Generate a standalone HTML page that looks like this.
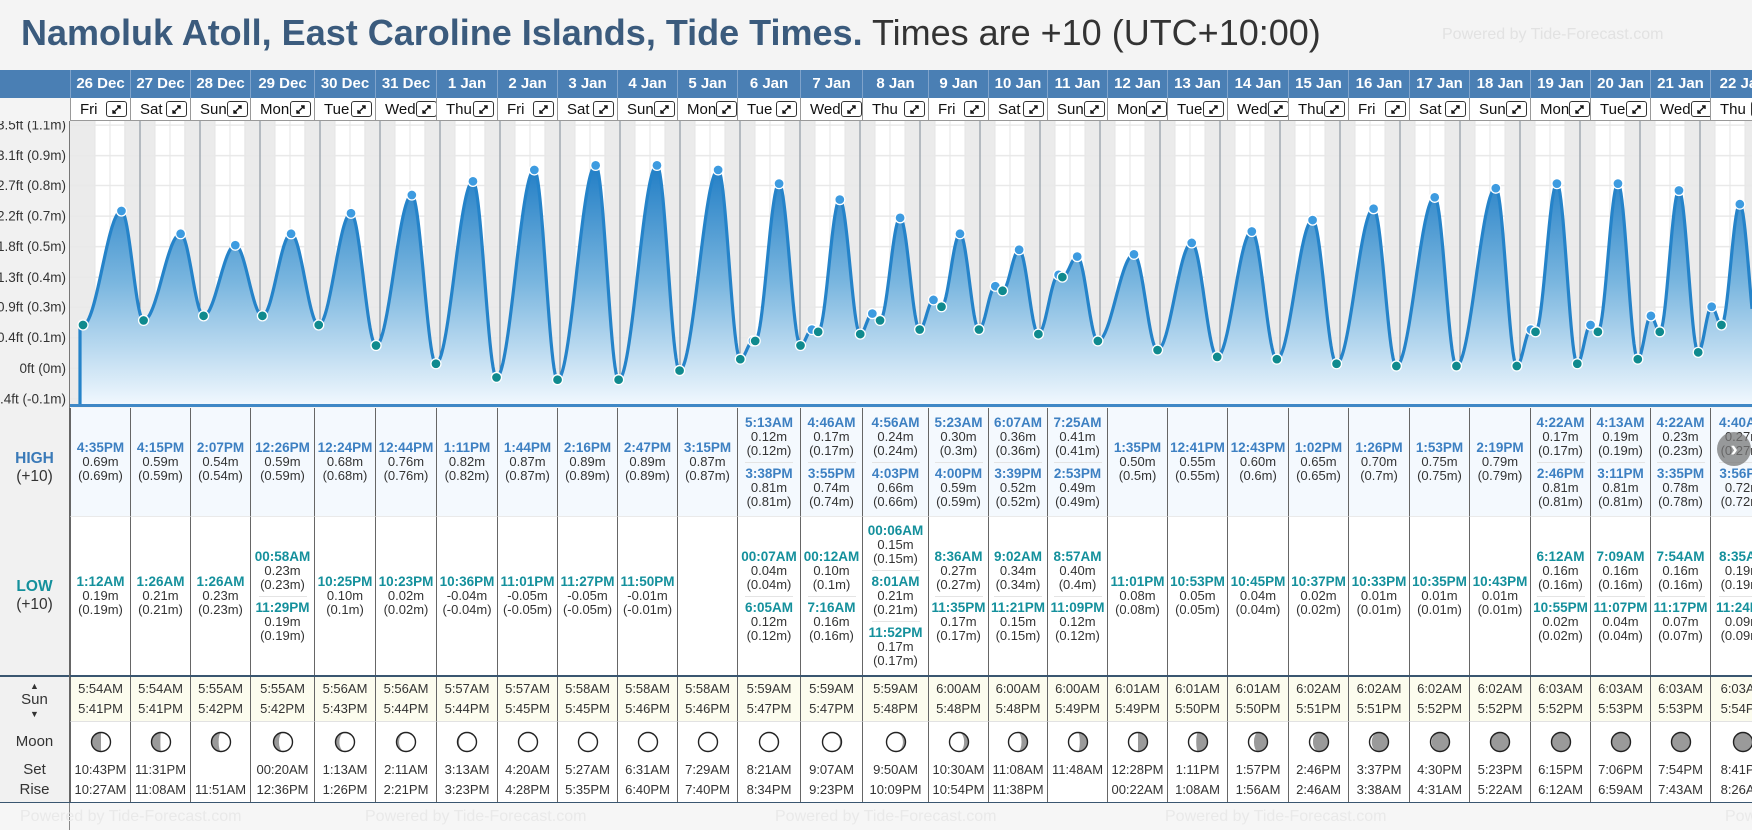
<!DOCTYPE html>
<html><head><meta charset="utf-8">
<style>
body{margin:0;width:1752px;height:830px;overflow:hidden;background:#f4f4f4;font-family:"Liberation Sans",sans-serif;position:relative}
.abs{position:absolute}
.hd{position:absolute;top:70px;height:28px;background:#4a7fb4;color:#fff;font-weight:bold;font-size:15px;line-height:28px;text-align:center;border-left:1px solid #7fa3cb;box-sizing:border-box;white-space:nowrap;overflow:hidden}
.dy{position:absolute;top:98px;height:23px;background:#fff;font-size:15px;line-height:23px;border-left:1px solid #999;border-bottom:1px solid #999;box-sizing:border-box;white-space:nowrap;overflow:hidden;color:#111;display:flex;justify-content:space-between;align-items:center;padding:0 3px 0 9px}
.cell{position:absolute;box-sizing:border-box;border-left:1px solid #666;display:flex;flex-direction:column;justify-content:center;align-items:center;overflow:hidden;white-space:nowrap;font-size:13px;color:#333;text-align:center}
.ent{padding:4px 0;line-height:14px;width:48px;display:flex;flex-direction:column;align-items:center}
.ent+.ent{border-top:1px solid #e4e4e4}
.th{font-weight:bold;color:#3d80c2;font-size:13.5px}
.tl{font-weight:bold;color:#14909c;font-size:13.5px}
.lbl{position:absolute;left:0;width:69px;text-align:center;background:#f1f1f1;box-sizing:border-box;display:flex;flex-direction:column;justify-content:center;align-items:center;color:#333}
.wm{position:absolute;color:#e2e2e2;font-size:16px;white-space:nowrap}
</style></head>
<body>
<div class="abs" style="left:21px;top:12px;font-size:36px;white-space:nowrap"><b style="color:#3b5b7d">Namoluk Atoll, East Caroline Islands, Tide Times.</b> <span style="color:#333">Times are +10 (UTC+10:00)</span></div>
<div class="wm" style="left:1442px;top:26px">Powered by Tide-Forecast.com</div>
<div class="abs" style="left:0;top:70px;width:70px;height:28px;background:#4a7fb4"></div>
<div class="abs" style="left:0;top:98px;width:70px;height:23px;background:#f4f4f4"></div>

<svg id="chart" class="abs" style="left:0;top:121px" width="1752" height="287" viewBox="0 121 1752 287">
  <defs>
    <linearGradient id="fillg" gradientUnits="userSpaceOnUse" x1="0" y1="160" x2="0" y2="405">
      <stop offset="0" stop-color="#1d7bc4"/>
      <stop offset="0.5" stop-color="#7ab6df"/>
      <stop offset="1" stop-color="#f1f8fe"/>
    </linearGradient>
  </defs>
  <rect x="70" y="121" width="1682" height="286" fill="#fff"/>
  <g id="bands"></g><g id="grid"></g><g id="area"></g><g id="dots"></g>
  <rect x="0" y="121" width="70" height="287" fill="#f1f1f1"/>
  <line x1="69.5" y1="121" x2="69.5" y2="408" stroke="#777"/>
  <g id="yticks"></g>
  <rect x="70" y="404" width="1682" height="3" fill="#3f88c6"/>
</svg>
<div id="table"></div>
<div class="abs" style="left:0;top:803px;width:1752px;height:27px;background:#f6f6f6"></div>
<div class="abs" style="left:69px;top:803px;width:1px;height:27px;background:#888"></div>
<div class="wm" style="left:20px;top:808px;color:#e9e9e9">Powered by Tide-Forecast.com</div>
<div class="wm" style="left:365px;top:808px;color:#e9e9e9">Powered by Tide-Forecast.com</div>
<div class="wm" style="left:775px;top:808px;color:#e9e9e9">Powered by Tide-Forecast.com</div>
<div class="wm" style="left:1165px;top:808px;color:#e9e9e9">Powered by Tide-Forecast.com</div>
<div class="wm" style="left:1725px;top:808px;color:#e9e9e9">Powered</div>
<div class="abs" style="left:1717px;top:432px;width:34px;height:34px;border-radius:17px;background:rgba(120,120,120,0.75);color:#fff;font-size:22px;line-height:34px;text-align:center;font-weight:bold">›</div>

<script>
const dates=['26 Dec','27 Dec','28 Dec','29 Dec','30 Dec','31 Dec','1 Jan','2 Jan','3 Jan','4 Jan','5 Jan','6 Jan','7 Jan','8 Jan','9 Jan','10 Jan','11 Jan','12 Jan','13 Jan','14 Jan','15 Jan','16 Jan','17 Jan','18 Jan','19 Jan','20 Jan','21 Jan','22 Jan'];
const weekdays=['Fri','Sat','Sun','Mon','Tue','Wed','Thu','Fri','Sat','Sun','Mon','Tue','Wed','Thu','Fri','Sat','Sun','Mon','Tue','Wed','Thu','Fri','Sat','Sun','Mon','Tue','Wed','Thu'];
const highTimes=[['4:35PM'],['4:15PM'],['2:07PM'],['12:26PM'],['12:24PM'],['12:44PM'],['1:11PM'],['1:44PM'],['2:16PM'],['2:47PM'],['3:15PM'],['5:13AM','3:38PM'],['4:46AM','3:55PM'],['4:56AM','4:03PM'],['5:23AM','4:00PM'],['6:07AM','3:39PM'],['7:25AM','2:53PM'],['1:35PM'],['12:41PM'],['12:43PM'],['1:02PM'],['1:26PM'],['1:53PM'],['2:19PM'],['4:22AM','2:46PM'],['4:13AM','3:11PM'],['4:22AM','3:35PM'],['4:40AM','3:56PM']];
const highHeights=[[0.69],[0.59],[0.54],[0.59],[0.68],[0.76],[0.82],[0.87],[0.89],[0.89],[0.87],[0.12,0.81],[0.17,0.74],[0.24,0.66],[0.30,0.59],[0.36,0.52],[0.41,0.49],[0.50],[0.55],[0.60],[0.65],[0.70],[0.75],[0.79],[0.17,0.81],[0.19,0.81],[0.23,0.78],[0.27,0.72]];
const lowTimes=[['1:12AM'],['1:26AM'],['1:26AM'],['00:58AM','11:29PM'],['10:25PM'],['10:23PM'],['10:36PM'],['11:01PM'],['11:27PM'],['11:50PM'],[],['00:07AM','6:05AM'],['00:12AM','7:16AM'],['00:06AM','8:01AM','11:52PM'],['8:36AM','11:35PM'],['9:02AM','11:21PM'],['8:57AM','11:09PM'],['11:01PM'],['10:53PM'],['10:45PM'],['10:37PM'],['10:33PM'],['10:35PM'],['10:43PM'],['6:12AM','10:55PM'],['7:09AM','11:07PM'],['7:54AM','11:17PM'],['8:35AM','11:24PM']];
const lowHeights=[[0.19],[0.21],[0.23],[0.23,0.19],[0.10],[0.02],[-0.04],[-0.05],[-0.05],[-0.01],[],[0.04,0.12],[0.10,0.16],[0.15,0.21,0.17],[0.27,0.17],[0.34,0.15],[0.40,0.12],[0.08],[0.05],[0.04],[0.02],[0.01],[0.01],[0.01],[0.16,0.02],[0.16,0.04],[0.16,0.07],[0.19,0.09]];
const sunrise=['5:54AM','5:54AM','5:55AM','5:55AM','5:56AM','5:56AM','5:57AM','5:57AM','5:58AM','5:58AM','5:58AM','5:59AM','5:59AM','5:59AM','6:00AM','6:00AM','6:00AM','6:01AM','6:01AM','6:01AM','6:02AM','6:02AM','6:02AM','6:02AM','6:03AM','6:03AM','6:03AM','6:03AM'];
const sunset=['5:41PM','5:41PM','5:42PM','5:42PM','5:43PM','5:44PM','5:44PM','5:45PM','5:45PM','5:46PM','5:46PM','5:47PM','5:47PM','5:48PM','5:48PM','5:48PM','5:49PM','5:49PM','5:50PM','5:50PM','5:51PM','5:51PM','5:52PM','5:52PM','5:52PM','5:53PM','5:53PM','5:54PM'];
const moonset=['10:43PM','11:31PM','','00:20AM','1:13AM','2:11AM','3:13AM','4:20AM','5:27AM','6:31AM','7:29AM','8:21AM','9:07AM','9:50AM','10:30AM','11:08AM','11:48AM','12:28PM','1:11PM','1:57PM','2:46PM','3:37PM','4:30PM','5:23PM','6:15PM','7:06PM','7:54PM','8:41PM'];
const moonrise=['10:27AM','11:08AM','11:51AM','12:36PM','1:26PM','2:21PM','3:23PM','4:28PM','5:35PM','6:40PM','7:40PM','8:34PM','9:23PM','10:09PM','10:54PM','11:38PM','','00:22AM','1:08AM','1:56AM','2:46AM','3:38AM','4:31AM','5:22AM','6:12AM','6:59AM','7:43AM','8:26AM'];
const moonPhase=[0.25,0.26,0.29,0.32,0.35,0.38,0.41,0.44,0.47,0.50,0.53,0.56,0.59,0.62,0.66,0.69,0.72,0.75,0.78,0.82,0.86,0.89,0.92,0.95,0.98,0.01,0.04,0.07];
const tickFeet=[-0.44,0,0.44,0.88,1.31,1.75,2.19,2.63,3.06,3.5];
const tickLabels=['-0.4ft (-0.1m)','0ft (0m)','0.4ft (0.1m)','0.9ft (0.3m)','1.3ft (0.4m)','1.8ft (0.5m)','2.2ft (0.7m)','2.7ft (0.8m)','3.1ft (0.9m)','3.5ft (1.1m)'];

const colX=[70,130,190,250,314,375,436,497,557,617,677,737,800,862,928,988,1047,1107,1167,1227,1288,1348,1409,1469,1530,1590,1650,1710,1775];
const NS='http://www.w3.org/2000/svg';
const X0=80,DAYW=60,Y0=368.3,PXM=228,BOT=404;
function xOf(day,hours){return X0+(day+hours/24)*DAYW;}
function yOf(m){return Y0-m*PXM;}
function hrs(s){const m=s.match(/(\d+):(\d+)(AM|PM)/);let h=(+m[1])%12;if(m[3]==='PM')h+=12;return h+(+m[2])/60;}
function sv(tag,attrs,parent){const e=document.createElementNS(NS,tag);for(const k in attrs)e.setAttribute(k,attrs[k]);parent.appendChild(e);return e;}

const bands=document.getElementById('bands'),grid=document.getElementById('grid'),area=document.getElementById('area'),dots=document.getElementById('dots'),yt=document.getElementById('yticks');
let nb=sv('rect',{x:70,y:121,width:xOf(0,hrs(sunrise[0]))-70,height:BOT-121,fill:'#ebebeb'},bands);


for(let d=0;d<dates.length;d++){
  const xs=xOf(d,hrs(sunset[d]));
  const xe=d+1<dates.length?xOf(d+1,hrs(sunrise[d+1])):xOf(d+1,6);
  const r=sv('rect',{x:xs,y:121,width:xe-xs,height:BOT-121,fill:'#ebebeb'},bands);
  
  
}
tickFeet.forEach((f,i)=>{
  const y=yOf(f*0.3048);
  const l=sv('line',{x1:70,x2:1752,y1:y,y2:y,stroke:'#e9e9e9','stroke-width':1.5},grid);
  
  
  const t=sv('text',{x:66,y:y+4.5,'text-anchor':'end','font-size':'13.5','fill':'#333','font-family':'Liberation Sans, sans-serif'},yt);
  t.textContent=tickLabels[i];
  
  
});
for(let d=0;d<dates.length+1;d++){
  for(let q=1;q<4;q++){
    const x=xOf(d,q*6);
    const l=sv('line',{x1:x,x2:x,y1:121,y2:BOT,stroke:'#e6e6e6','stroke-width':1},grid);
    
    
  }
  if(d>0){
    const x=xOf(d,0);
    const l=sv('line',{x1:x,x2:x,y1:121,y2:BOT,stroke:'#7c8a96','stroke-width':1},grid);
    
    
  }
}
const ext=[];
for(let d=0;d<dates.length;d++){
  highTimes[d].forEach((t,i)=>ext.push({t:d+hrs(t)/24,h:highHeights[d][i],hi:true}));
  lowTimes[d].forEach((t,i)=>ext.push({t:d+hrs(t)/24,h:lowHeights[d][i],hi:false}));
}
ext.sort((a,b)=>a.t-b.t);
function hAt(t){
  if(t<=ext[0].t)return ext[0].h;
  for(let i=0;i<ext.length-1;i++){
    const a=ext[i],b=ext[i+1];
    if(t>=a.t&&t<=b.t){const f=(t-a.t)/(b.t-a.t);return a.h+(b.h-a.h)*(1-Math.cos(Math.PI*f))/2;}
  }
  return ext[ext.length-1].h;
}
let pts=[];
for(let x=X0;x<=1752;x+=1){pts.push([x,yOf(hAt((x-X0)/DAYW))]);}
const line=pts.map((p,i)=>(i?'L':'M')+p[0].toFixed(1)+' '+p[1].toFixed(1)).join(' ');
const fillp=sv('path',{d:line+' L1752 '+BOT+' L'+X0+' '+BOT+' Z',fill:'url(#fillg)'},area);


const strk=sv('path',{d:'M'+X0+' '+BOT+' L'+line.slice(1),fill:'none',stroke:'#2583c9','stroke-width':3.2,'stroke-linejoin':'round'},area);


ext.forEach(e=>{
  const c=sv('circle',{cx:X0+e.t*DAYW,cy:yOf(e.h),r:5,fill:e.hi?'#3d9be0':'#0f8a8e',stroke:'#fff','stroke-width':1.3},dots);
  
  
});

const tb=document.getElementById('table');
function div(cls,style,parent){const e=document.createElement('div');if(cls)e.className=cls;if(style)e.style.cssText=style;parent.appendChild(e);return e;}
function fmtParen(v){return '('+String(parseFloat(v.toFixed(2)))+'m)';}
function addEntries(cell,times,vals,cls,nm){
  times.forEach((t,i)=>{
    const en=div('ent','',cell);
    
    
    const a=div(cls,'',en);a.textContent=t;
    const b=div('','',en);b.textContent=vals[i].toFixed(2)+'m';
    const c=div('','',en);c.textContent=fmtParen(vals[i]);
  });
}
function moonSvg(p){
  const s=document.createElementNS(NS,'svg');s.setAttribute('width','22');s.setAttribute('height','22');s.setAttribute('viewBox','0 0 22 22');
  sv('circle',{cx:11,cy:11,r:9.5,fill:'#9a9a9a'},s);
  const r=9.5;let d;
  if(p<0.5){const rx=Math.abs(Math.cos(2*Math.PI*p))*r;const sw=p<0.25?0:1;d=`M11 1.5 A${r} ${r} 0 0 1 11 20.5 A${rx} ${r} 0 0 ${sw} 11 1.5 Z`;}
  else{const q=p-0.5;const rx=Math.abs(Math.cos(2*Math.PI*q))*r;const sw=q<0.25?0:1;d=`M11 1.5 A${r} ${r} 0 0 0 11 20.5 A${rx} ${r} 0 0 ${sw} 11 1.5 Z`;}
  sv('path',{d:d,fill:'#fff'},s);
  sv('circle',{cx:11,cy:11,r:9.5,fill:'none',stroke:'#222','stroke-width':1.4},s);
  return s;
}
for(let d=0;d<dates.length;d++){
  const L=colX[d],W=colX[d+1]-colX[d];
  const h=div('hd',`left:${L}px;width:${W}px`,tb);h.textContent=dates[d];
  
  
  const dy=div('dy',`left:${L}px;width:${W}px`,tb);
  
  
  const wn=div('','',dy);wn.textContent=weekdays[d];
  const ex=div('',`width:19px;height:14px;border:1px solid #333;border-radius:3px;background:#fff;flex:none;line-height:0`,dy);
  
  
  ex.innerHTML='<svg width="19" height="14" viewBox="0 0 19 14"><path d="M6 11 L13 4 M10 4 L13 4 L13 7 M6 8 L6 11 L9 11" stroke="#111" stroke-width="1.4" fill="none"/></svg>';
  const hc=div('cell',`left:${L}px;width:${W}px;top:408px;height:109px;background:#f4f9fe;border-bottom:1px solid #eaeaea`,tb);
  
  
  addEntries(hc,highTimes[d],highHeights[d],'th','high-tide-entry');
  const lc=div('cell',`left:${L}px;width:${W}px;top:517px;height:158px;background:#fff`,tb);
  
  
  addEntries(lc,lowTimes[d],lowHeights[d],'tl','low-tide-entry');
  const sc=div('cell',`left:${L}px;width:${W}px;top:677px;height:45px;background:#fcfcee;line-height:20px;border-bottom:1px solid #e2e2e2`,tb);
  
  
  div('','',sc).textContent=sunrise[d];
  div('','',sc).textContent=sunset[d];
  const mc=div('cell',`left:${L}px;width:${W}px;top:722px;height:80px;background:#fff;justify-content:flex-start;line-height:20px`,tb);
  
  
  const mi=div('',`height:22px;margin-top:9px;margin-bottom:7px`,mc);
  
  
  mi.appendChild(moonSvg(moonPhase[d]));
  div('','height:20px',mc).textContent=moonset[d];
  div('','height:20px',mc).textContent=moonrise[d];
}
const lines=[[675,2,'#3a5670'],[802,1.5,'#3a5670']];
lines.forEach(l=>{const e=div('',`position:absolute;left:0;top:${l[0]}px;width:1752px;height:${l[1]}px;background:${l[2]}`,tb);
  
  });
const lh=div('lbl','top:408px;height:109px;line-height:18px;font-size:15.5px',tb);


lh.innerHTML='<div style="font-weight:bold;color:#3a7ab8;margin-top:10px">HIGH</div><div>(+10)</div>';
const ll=div('lbl','top:517px;height:158px;line-height:18px;font-size:15.5px',tb);


ll.innerHTML='<div style="font-weight:bold;color:#14909c">LOW</div><div>(+10)</div>';
const ls=div('lbl','top:677px;height:45px;font-size:15px;line-height:14px',tb);


ls.innerHTML='<div style="font-size:9px">▲</div><div>Sun</div><div style="font-size:9px">▼</div>';
const lm=div('lbl','top:722px;height:80px;font-size:15px;line-height:20px;justify-content:flex-start',tb);


lm.innerHTML='<div style="margin-top:10px;margin-bottom:8px">Moon</div><div>Set</div><div>Rise</div>';
const lv=div('',`position:absolute;left:69px;top:408px;width:1px;height:394px;background:#666`,tb);


</script>
</body></html>
